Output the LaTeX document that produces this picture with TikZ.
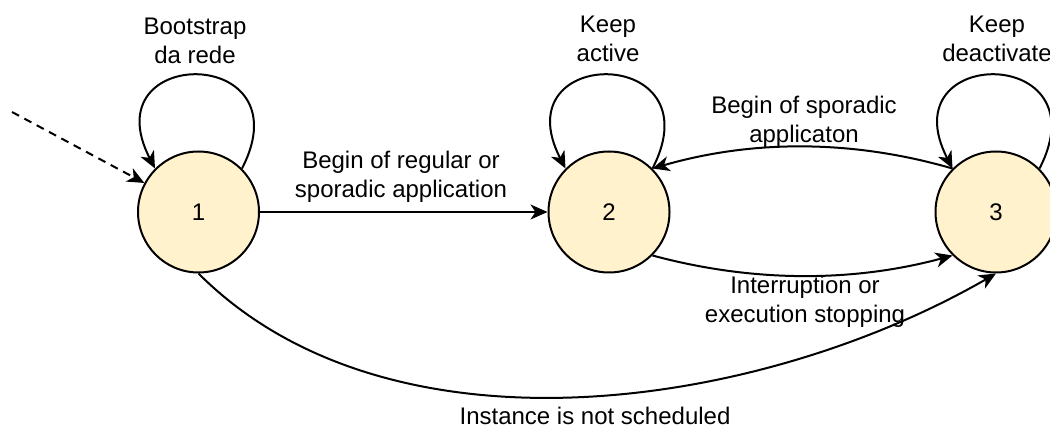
\documentclass[tikz,border=0pt]{standalone}
\usepackage{fontspec}
\setmainfont{Liberation Sans}
\usetikzlibrary{arrows.meta}
\definecolor{stateFill}{HTML}{FFF2CC}
\begin{document}
\begin{tikzpicture}[x=1pt,y=-1pt,
  state/.style={circle, draw, line width=2pt, fill=stateFill,
    minimum size=121pt, inner sep=0pt, font=\fontsize{24}{28}\selectfont},
  edge/.style={line width=2pt,
    -{Stealth[length=17pt,width=15pt,inset=5pt]}},
  lbl/.style={align=center, inner sep=0pt,
    font=\fontsize{24}{29}\selectfont}]
\useasboundingbox (0,0) rectangle (1050,430);

% states
\node[state] (n1) at (198.5,212) {1};
\node[state] (n2) at (609,212) {2};
\node[state] (n3) at (996,212) {3};

% initial transition
\coordinate (init) at (12,112);
\draw[edge, dash pattern=on 8pt off 6pt] (init) -- (n1);

% self loops
\draw[edge] (n1.45) .. controls +(64,-124) and +(-64,-124) .. (n1.135);
\draw[edge] (n2.45) .. controls +(64,-124) and +(-64,-124) .. (n2.135);
\draw[edge] (n3.45) .. controls +(64,-124) and +(-64,-124) .. (n3.135);

% transitions between states
\draw[edge] (n1) -- (n2);
\draw[edge] (n3.135) .. controls +(-100,-29) and +(100,-29) .. (n2.45);
\draw[edge] (n2.-45) .. controls +(100,27) and +(-100,27) .. (n3.-135);
\draw[edge] (n1.south) .. controls +(192,192) and +(-236,136) .. (n3.south);

% labels
\node[lbl] (l1) at (195,41) {Bootstrap\\da rede};
\node[lbl] (l2) at (608,39) {Keep\\active};
\node[lbl] (l3) at (997,39) {Keep\\deactivate};
\node[lbl] (l4) at (401,177) {Begin of regular or\\sporadic application};
\node[lbl] (l5) at (804,122) {Begin of sporadic\\applicaton};
\node[lbl] (l6) at (805,302) {Interruption or\\execution stopping};
\node[lbl] (l7) at (595,416) {Instance is not scheduled};
\end{tikzpicture}
\end{document}
